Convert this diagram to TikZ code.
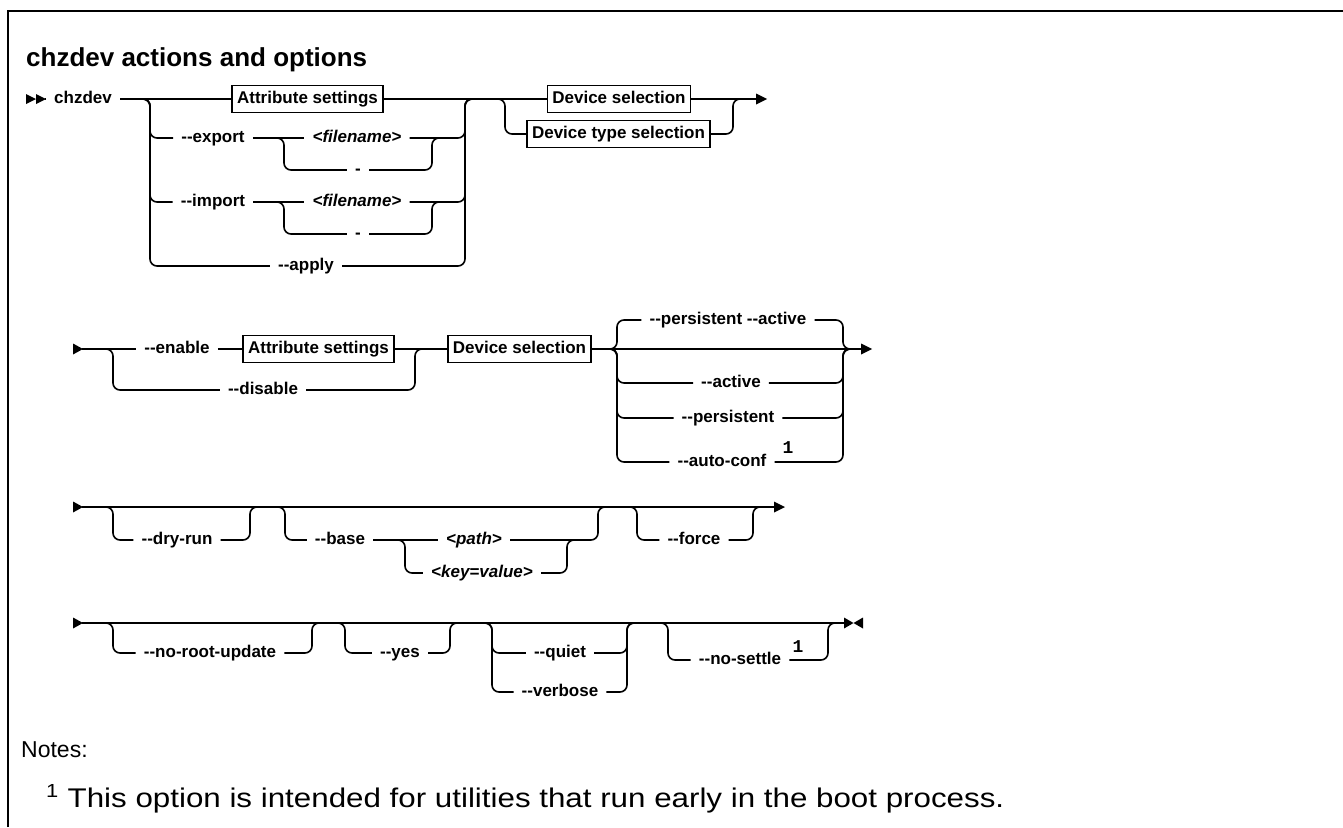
\documentclass[tikz,border=0pt]{standalone}
\usepackage{fontspec}
\setmainfont{Liberation Sans}
\newfontfamily\digitfont{Liberation Mono}
\begin{document}
\begin{tikzpicture}[x=1pt,y=-1pt,
  rail/.style={line width=1.6pt, rounded corners=7pt},
  lblfont/.style={font=\fontsize{17}{19}\selectfont\bfseries},
  lbl/.style={lblfont, inner xsep=8pt, inner ysep=0pt, text height=12.5pt, text depth=3.5pt},
  ilbl/.style={lbl, font=\fontsize{17}{19}\selectfont\bfseries\itshape},
  refbox/.style={draw, line width=1.4pt, lblfont, inner xsep=5pt, inner ysep=0pt,
                 text height=12.5pt, text depth=3.5pt, minimum height=27pt},
  fnmark/.style={font=\fontsize{18}{19}\selectfont\digitfont\bfseries, inner sep=0pt},
  tip/.style={fill=black}
]
\useasboundingbox (0,0) rectangle (1343,827);

% frame
\draw[line width=2.6pt] (8,827) -- (8,11) -- (1343,11);

% title
\node[anchor=base west, inner sep=0pt, font=\fontsize{26}{29}\selectfont\bfseries] (title) at (26,66) {chzdev actions and options};

% ---------------- first line ----------------
\coordinate (s1) at (45,99);
\fill[tip] (26,94) -- (36,99) -- (26,104) -- cycle;
\fill[tip] (36,94) -- (46,99) -- (36,104) -- cycle;
\node[lbl] (cmd) at (83,99) {chzdev};
\node[refbox] (attrA) at (307.5,99) {Attribute settings};
\node[lbl] (exp) at (213,138) {-{}-export};
\node[ilbl] (fnA) at (357,138) {<filename>};
\node[lbl] (dashA) at (358,170) {-};
\node[lbl] (imp) at (213,202) {-{}-import};
\node[ilbl] (fnB) at (357,202) {<filename>};
\node[lbl] (dashB) at (358,234) {-};
\node[lbl] (apply) at (306,266) {-{}-apply};
\node[refbox] (dsA) at (619,99) {Device selection};
\node[refbox] (dtA) at (618.5,134) {Device type selection};
\coordinate (e1) at (757,99);

\draw[rail] (s1) -- (cmd.west);
\draw[rail] (cmd.east) -- (attrA.west);
\draw[rail] (attrA.east) -- (dsA.west);
\draw[rail] (dsA.east) -- (e1);
\fill[tip] (756,93.5) -- (767,99) -- (756,104.5) -- cycle;

% action choice
\draw[rail] (140,99) -- (150,99) -- (150,138) -- (exp.west);
\draw[rail] (exp.east) -- (fnA.west);
\draw[rail] (fnA.east) -- (465,138) -- (465,99) -- (475,99);
\draw[rail] (274,138) -- (284,138) -- (284,170) -- (dashA.west);
\draw[rail] (dashA.east) -- (432,170) -- (432,138) -- (442,138);
\draw[rail] (140,99) -- (150,99) -- (150,202) -- (imp.west);
\draw[rail] (imp.east) -- (fnB.west);
\draw[rail] (fnB.east) -- (465,202) -- (465,99) -- (475,99);
\draw[rail] (274,202) -- (284,202) -- (284,234) -- (dashB.west);
\draw[rail] (dashB.east) -- (432,234) -- (432,202) -- (442,202);
\draw[rail] (140,99) -- (150,99) -- (150,266) -- (apply.west);
\draw[rail] (apply.east) -- (465,266) -- (465,99) -- (475,99);

% selection choice
\draw[rail] (495,99) -- (505,99) -- (505,134) -- (dtA.west);
\draw[rail] (dtA.east) -- (733,134) -- (733,99) -- (743,99);

% ---------------- second line ----------------
\coordinate (s2) at (82,349);
\fill[tip] (73,343.5) -- (83,349) -- (73,354.5) -- cycle;
\node[lbl] (en) at (177,349) {-{}-enable};
\node[refbox] (attrB) at (318.5,349) {Attribute settings};
\node[lbl] (dis) at (263,390) {-{}-disable};
\node[refbox] (dsB) at (519.5,349) {Device selection};
\node[lbl] (pa) at (728,320) {-{}-persistent -{}-active};
\node[lbl] (act) at (731,383) {-{}-active};
\node[lbl] (per) at (728,418) {-{}-persistent};
\node[lbl] (auto) at (722,462) {-{}-auto-conf};
\node[fnmark] (autofn) at (788,448) {1};
\coordinate (e2) at (862,349);

\draw[rail] (s2) -- (en.west);
\draw[rail] (en.east) -- (attrB.west);
\draw[rail] (attrB.east) -- (dsB.west);
\draw[rail] (dsB.east) -- (e2);
\fill[tip] (861,343.5) -- (872,349) -- (861,354.5) -- cycle;

\draw[rail] (103,349) -- (113,349) -- (113,390) -- (dis.west);
\draw[rail] (dis.east) -- (415,390) -- (415,349) -- (425,349);

\draw[rail] (607,349) -- (617,349) -- (617,320) -- (pa.west);
\draw[rail] (pa.east) -- (843,320) -- (843,349) -- (853,349);
\draw[rail] (607,349) -- (617,349) -- (617,383) -- (act.west);
\draw[rail] (act.east) -- (843,383) -- (843,349) -- (853,349);
\draw[rail] (607,349) -- (617,349) -- (617,418) -- (per.west);
\draw[rail] (per.east) -- (843,418) -- (843,349) -- (853,349);
\draw[rail] (607,349) -- (617,349) -- (617,462) -- (auto.west);
\draw[rail] (auto.east) -- (843,462) -- (843,349) -- (853,349);

% ---------------- third line ----------------
\coordinate (s3) at (82,507);
\coordinate (e3) at (775,507);
\fill[tip] (73,501.5) -- (83,507) -- (73,512.5) -- cycle;
\node[lbl] (dry) at (177,540) {-{}-dry-run};
\node[lbl] (base) at (340,540) {-{}-base};
\node[ilbl] (path) at (474,540) {<path>};
\node[ilbl] (kv) at (482,573) {<key=value>};
\node[lbl] (force) at (694,540) {-{}-force};

\draw[rail] (s3) -- (e3);
\fill[tip] (774,501.5) -- (785,507) -- (774,512.5) -- cycle;

\draw[rail] (103,507) -- (113,507) -- (113,540) -- (dry.west);
\draw[rail] (dry.east) -- (250,540) -- (250,507) -- (260,507);
\draw[rail] (275,507) -- (285,507) -- (285,540) -- (base.west);
\draw[rail] (base.east) -- (path.west);
\draw[rail] (path.east) -- (598,540) -- (598,507) -- (608,507);
\draw[rail] (395,540) -- (405,540) -- (405,573) -- (kv.west);
\draw[rail] (kv.east) -- (567,573) -- (567,540) -- (577,540);
\draw[rail] (627,507) -- (637,507) -- (637,540) -- (force.west);
\draw[rail] (force.east) -- (753,540) -- (753,507) -- (763,507);

% ---------------- fourth line ----------------
\coordinate (s4) at (82,623);
\coordinate (e4) at (846,623);
\fill[tip] (73,617.5) -- (83,623) -- (73,628.5) -- cycle;
\node[lbl] (nru) at (210,653) {-{}-no-root-update};
\node[lbl] (yes) at (400,653) {-{}-yes};
\node[lbl] (quiet) at (560,653) {-{}-quiet};
\node[lbl] (verb) at (560,692) {-{}-verbose};
\node[lbl] (nos) at (740,660) {-{}-no-settle};
\node[fnmark] (nosfn) at (798,647) {1};

\draw[rail] (s4) -- (e4);
\fill[tip] (844,617.5) -- (853.5,623) -- (844,628.5) -- cycle;
\fill[tip] (863,617.5) -- (853.5,623) -- (863,628.5) -- cycle;

\draw[rail] (103,623) -- (113,623) -- (113,653) -- (nru.west);
\draw[rail] (nru.east) -- (312,653) -- (312,623) -- (322,623);
\draw[rail] (335,623) -- (345,623) -- (345,653) -- (yes.west);
\draw[rail] (yes.east) -- (450,653) -- (450,623) -- (460,623);
\draw[rail] (482,623) -- (492,623) -- (492,692) -- (verb.west);
\draw[rail] (verb.east) -- (627,692) -- (627,623) -- (637,623);
\draw[rail] (482,623) -- (492,623) -- (492,653) -- (quiet.west);
\draw[rail] (quiet.east) -- (627,653) -- (627,623) -- (637,623);
\draw[rail] (658,623) -- (668,623) -- (668,660) -- (nos.west);
\draw[rail] (nos.east) -- (828,660) -- (828,623) -- (838,623);

% ---------------- notes ----------------
\node[anchor=base west, inner sep=0pt, font=\fontsize{23}{26}\selectfont] (notes) at (21,757) {Notes:};
\node[anchor=base west, inner sep=0pt, font=\fontsize{27}{30}\selectfont] (fn1) at (46,807)
  {\scalebox{1.16}[1]{\textsuperscript{1} This option is intended for utilities that run early in the boot process.}};
\end{tikzpicture}
\end{document}
